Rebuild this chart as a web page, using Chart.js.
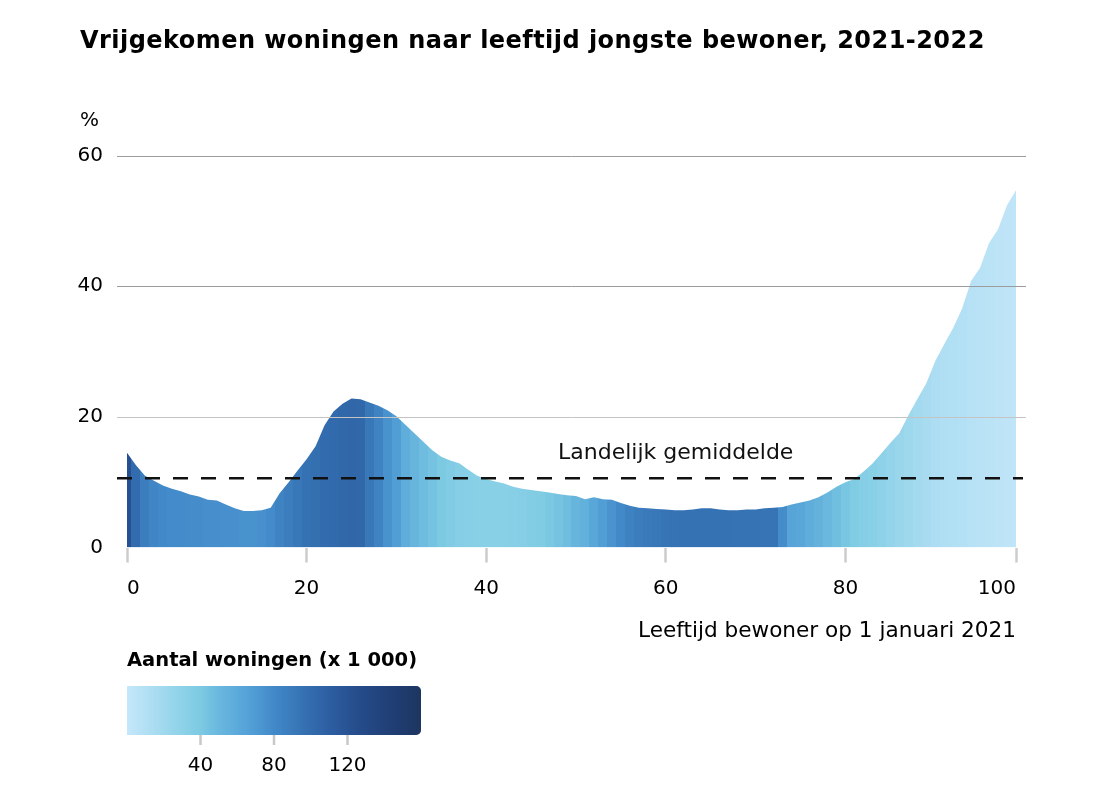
<!DOCTYPE html>
<html><head><meta charset="utf-8">
<script src="https://cdn.jsdelivr.net/npm/chart.js@4.4.1/dist/chart.umd.min.js"></script>
<style>
html,body{margin:0;padding:0;background:#fff;}
#wrap{position:relative;width:1109px;height:790px;}
canvas{position:absolute;left:0;top:0;}
#title{position:absolute;left:80px;top:28px;margin:0;font:bold 24px 'DejaVu Sans',sans-serif;letter-spacing:0.45px;line-height:24px;color:#000;white-space:nowrap;z-index:2;}
</style></head><body>
<div id="wrap">
<canvas id="c" width="1109" height="790"></canvas>
<h1 id="title">Vrijgekomen woningen naar leeftijd jongste bewoner, 2021-2022</h1>
</div>
<script>
// ---- data ----
const ages = [0,1,2,3,4,5,6,7,8,9,10,11,12,13,14,15,16,17,18,19,20,21,22,23,24,25,26,27,28,29,
  30,31,32,33,34,35,36,37,38,39,40,41,42,43,44,45,46,47,48,49,50,51,52,53,54,55,56,57,58,59,
  60,61,62,63,64,65,66,67,68,69,70,71,72,73,74,75,76,77,78,79,80,81,82,83,84,85,86,87,88,89,
  90,91,92,93,94,95,96,97,98,99];
// share of dwellings that became vacant (%)
const pctVacant = [14.5,12.6,11.0,10.2,9.5,9.0,8.6,8.1,7.8,7.3,
  7.2,6.6,6.0,5.6,5.6,5.7,6.1,8.3,10.0,11.8,
  13.5,15.5,18.7,20.8,22.0,22.8,22.7,22.2,21.7,21.0,
  20.1,18.8,17.5,16.2,14.9,13.9,13.3,12.9,11.9,11.0,
  10.5,10.1,9.8,9.3,9.0,8.8,8.6,8.4,8.2,8.0,
  7.9,7.4,7.7,7.4,7.3,6.8,6.4,6.1,6.0,5.9,
  5.8,5.7,5.7,5.8,6.0,6.0,5.8,5.7,5.7,5.8,
  5.8,6.0,6.1,6.2,6.6,6.9,7.2,7.7,8.4,9.3,
  10.0,10.5,11.6,12.8,14.4,16.0,17.5,20.2,22.7,25.1,
  28.5,31.1,33.6,36.6,40.8,42.8,46.6,48.7,52.4,54.7];
// number of dwellings (x 1 000), shown as colour
const dwellings = [122,100,88,82,80,79,79,78,78,77,
  77,76,76,75,75,76,79,84,88,92,
  96,98,100,101,103,104,103,92,84,75,
  68,58,52,48,44,40,37,35,34,33,
  33,33,33,34,35,36,38,41,44,47,
  52,56,62,68,74,80,85,88,90,92,
  94,95,96,96,96,96,96,96,95,95,
  95,94,94,78,64,62,58,54,50,46,
  42,38,35,33,30,27,24,21,18,16,
  14,12,11,10,8,7,6,5,4,3];
const nationalAverage = 10.6;
const averageLabel = 'Landelijk gemiddelde';
const xTickValues = [0,20,40,60,80,99];
const xTickLabels = ['0','20','40','60','80','100'];
const yTickValues = [0,20,40,60];
const yTickLabels = ['0','20','40','60'];
const legendTicks = [40,80,120];
const legendTitle = 'Aantal woningen (x 1 000)';
const legendMax = 160;

// ---- styles ----
const FONT = "'DejaVu Sans', sans-serif";
const colorStops = [[0,'#c6e7fa'],[15,'#aadcf1'],[30,'#8dd2e8'],[40,'#7ccae2'],[50,'#6ab8de'],
  [65,'#55a3d8'],[80,'#4289c9'],[95,'#3673b4'],[110,'#2d5ea2'],[125,'#264d8c'],[140,'#21417a'],[160,'#1d3560']];
function hexToRgb(h){return [parseInt(h.slice(1,3),16),parseInt(h.slice(3,5),16),parseInt(h.slice(5,7),16)];}
function colorFor(v){
  if (v <= colorStops[0][0]) return colorStops[0][1];
  for (let i=1;i<colorStops.length;i++){
    if (v <= colorStops[i][0]){
      const [v0,c0]=colorStops[i-1],[v1,c1]=colorStops[i];
      const t=(v-v0)/(v1-v0), a=hexToRgb(c0), b=hexToRgb(c1);
      return 'rgb('+a.map((x,k)=>Math.round(x+(b[k]-x)*t)).join(',')+')';
    }
  }
  return colorStops[colorStops.length-1][1];
}

function areaFill(ctx){
  const chart = ctx.chart, ca = chart.chartArea;
  if (!ca) return '#4a8dca';
  const xs = chart.scales.x;
  const x0 = xs.getPixelForValue(ages[0]), x1 = xs.getPixelForValue(ages[ages.length-1]);
  const g = chart.ctx.createLinearGradient(x0,0,x1,0);
  const f = p => Math.min(1, Math.max(0, (p - x0)/(x1 - x0)));
  ages.forEach((a,i)=>{
    const c = colorFor(dwellings[i]);
    g.addColorStop(f(xs.getPixelForValue(a-0.5)), c);
    g.addColorStop(f(xs.getPixelForValue(a+0.5)), c);
  });
  return g;
}

const overlay = {
  id:'overlay',
  afterDatasetsDraw(chart){
    const {ctx, chartArea:a, scales:{x,y}} = chart;
    ctx.save();
    yTickValues.forEach(v=>{
      if (v === 0) return;
      const py = Math.round(y.getPixelForValue(v)) + 0.5;
      ctx.strokeStyle = v === 20 ? '#c4c4c4' : '#9c9c9c';
      ctx.lineWidth = 1;
      ctx.beginPath(); ctx.moveTo(a.left-10, py); ctx.lineTo(a.right+10, py); ctx.stroke();
    });
    const ay = y.getPixelForValue(nationalAverage);
    ctx.strokeStyle = '#111'; ctx.lineWidth = 2.5; ctx.setLineDash([15,13]);
    ctx.beginPath(); ctx.moveTo(a.left-10, ay); ctx.lineTo(a.right+7, ay); ctx.stroke();
    ctx.setLineDash([]);
    ctx.fillStyle = '#111'; ctx.font = '22px ' + FONT; ctx.textAlign='left'; ctx.textBaseline='alphabetic';
    ctx.fillText(averageLabel, x.getPixelForValue(48), ay - 19);
    ctx.restore();
  },
  afterDraw(chart){
    const {ctx, chartArea:a} = chart;
    ctx.save();
    ctx.fillStyle = '#000'; ctx.textBaseline='alphabetic'; ctx.textAlign='left';
    ctx.font = '20px ' + FONT;
    ctx.fillText('%', 80, 126);
    // legend
    ctx.font = 'bold 19.5px ' + FONT;
    ctx.fillText(legendTitle, a.left, 666);
    const L = a.left, R = 421, T = 686, B = 735;
    const px = v => L + (R - L) * v / legendMax;
    ctx.save();
    ctx.beginPath(); ctx.roundRect(L, T, R-L, B-T, [0,5,5,0]); ctx.clip();
    for (let p = L; p < R; p++){
      ctx.fillStyle = colorFor((p - L + 0.5) / (R - L) * legendMax);
      ctx.fillRect(p, T, 1.5, B-T);
    }
    ctx.restore();
    ctx.strokeStyle = '#c8c8c8'; ctx.lineWidth = 2.5;
    ctx.fillStyle = '#000'; ctx.font = '20px ' + FONT; ctx.textAlign='center';
    legendTicks.forEach(v=>{
      const p = px(v);
      ctx.beginPath(); ctx.moveTo(p, B); ctx.lineTo(p, B+10); ctx.stroke();
      ctx.fillText(String(v), p, 771);
    });
    ctx.restore();
  }
};

new Chart(document.getElementById('c'), {
  type:'line',
  data:{datasets:[{
    data: ages.map((a,i)=>({x:a, y:pctVacant[i]})),
    fill:'origin', borderWidth:0, pointRadius:0, tension:0,
    backgroundColor: areaFill
  }]},
  options:{
    responsive:false, animation:false,
    layout:{padding:{left:0, right:93, top:155.5, bottom:0}},
    plugins:{legend:{display:false}, tooltip:{enabled:false}, title:{display:false}},
    scales:{
      x:{type:'linear', min:0, max:99,
        afterBuildTicks: s => { s.ticks = xTickValues.map(v=>({value:v})); },
        afterFit: s => { s.height = 242.5; },
        grid:{display:true, drawOnChartArea:false, drawTicks:true, tickLength:15, tickColor:'#cccccc', tickWidth:2.5},
        border:{display:false},
        ticks:{align:'inner', padding:14, color:'#000', font:{family:FONT, size:20}, maxRotation:0, autoSkip:false,
          callback:(v,i)=>xTickLabels[i]},
        title:{display:true, text:'Leeftijd bewoner op 1 januari 2021', align:'end', color:'#000',
          font:{family:FONT, size:21.6}, padding:{top:0, bottom:146}}
      },
      y:{min:0, max:60,
        afterBuildTicks: s => { s.ticks = yTickValues.map(v=>({value:v})); },
        afterFit: s => { s.width = 127; },
        grid:{display:false, drawTicks:false}, border:{display:false},
        ticks:{padding:24, color:'#000', font:{family:FONT, size:20}, callback:(v,i)=>yTickLabels[i]}
      }
    }
  },
  plugins:[overlay]
});
</script>
</body></html>
